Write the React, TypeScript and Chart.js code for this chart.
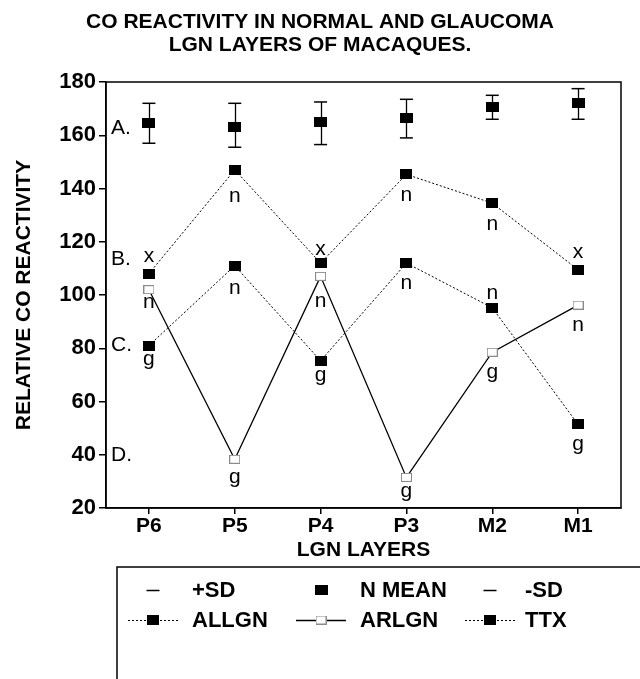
import React, { useEffect, useRef } from 'react';
import { Chart, registerables } from 'chart.js';

Chart.register(...registerables);

// ---------- data ----------
const layers = ['P6', 'P5', 'P4', 'P3', 'M2', 'M1'];
const plusSD = [172, 172, 172.5, 173.5, 175, 177.5];
const nMean = [164.5, 163, 165, 166.5, 170.5, 172];
const minusSD = [157, 155.5, 156.5, 159, 166, 166];
const allgn = [108, 147, 112, 145.3, 134.5, 109.5];
const arlgn = [102, 38.3, 107, 31.5, 78.5, 96.2];
const ttx = [81, 111, 75.3, 112, 95.2, 51.4];
const allgnMarks = ['x', 'n', 'x', 'n', 'n', 'x'];
const arlgnMarks = ['n', 'g', 'n', 'g', 'g', 'n'];
const ttxMarks = ['g', 'n', 'g', 'n', 'n', 'g'];
const groupLabels = ['A.', 'B.', 'C.', 'D.'];
const groupLevels = [162.5, 113.5, 81, 40];
const titleLines = ['CO REACTIVITY IN NORMAL AND GLAUCOMA', 'LGN LAYERS OF MACAQUES.'];
const yTitle = 'RELATIVE CO REACTIVITY';
const xTitle = 'LGN LAYERS';
const yMin = 20;
const yMax = 180;
const yStep = 20;

// ---------- styles ----------
const FONT = "'Liberation Sans', Arial, Helvetica, sans-serif";

function makeSquare(w: number, h: number, fill: string | null, stroke: string | null) {
  const c = document.createElement('canvas');
  c.width = w;
  c.height = h;
  const g = c.getContext('2d')!;
  if (fill) {
    g.fillStyle = fill;
    g.fillRect(0, 0, w, h);
  }
  if (stroke) {
    g.strokeStyle = stroke;
    g.lineWidth = 1;
    g.strokeRect(0.5, 0.5, w - 1, h - 1);
  }
  return c;
}

// letter offsets (px) relative to each marker
const markOffsets: Record<string, number[]> = {
  ALLGN: [-17, 26, -14, 21, 21, -18],
  TTX: [14, 22, 14, 20, -15, 20],
  ARLGN: [13, 18, 25, 14, 20, 20],
};

export default function App() {
  const ref = useRef<HTMLCanvasElement>(null);

  useEffect(() => {
    const canvas = ref.current!;
    const meanSq = makeSquare(13, 10, '#000', null);
    const fillSq = makeSquare(12, 10, '#000', null);
    const openSq = makeSquare(11, 9, '#fff', '#8a8a8a');

    const marks: Record<string, string[]> = { ALLGN: allgnMarks, TTX: ttxMarks, ARLGN: arlgnMarks };

    const decor = {
      id: 'decor',
      beforeDatasetsDraw(chart: any) {
        const { ctx, chartArea, scales } = chart;
        const x = scales.x;
        const y = scales.y;
        ctx.save();
        ctx.strokeStyle = '#000';
        ctx.lineWidth = 1.5;
        ctx.strokeRect(chartArea.left, chartArea.top, chartArea.right - chartArea.left, chartArea.bottom - chartArea.top);
        ctx.lineWidth = 1.3;
        for (let i = 0; i < layers.length; i++) {
          const px = Math.round(x.getPixelForValue(i)) + 0.5;
          ctx.beginPath();
          ctx.moveTo(px, y.getPixelForValue(plusSD[i]));
          ctx.lineTo(px, y.getPixelForValue(minusSD[i]));
          ctx.stroke();
        }
        ctx.restore();
      },
      afterDatasetsDraw(chart: any) {
        const { ctx, chartArea, scales } = chart;
        const x = scales.x;
        const y = scales.y;
        ctx.save();
        ctx.fillStyle = '#000';
        ctx.font = `21px ${FONT}`;
        ctx.textAlign = 'center';
        ctx.textBaseline = 'middle';
        chart.data.datasets.forEach((ds: any) => {
          const m = marks[ds.label];
          if (!m) return;
          const off = markOffsets[ds.label];
          m.forEach((ch, i) => {
            ctx.fillText(ch, x.getPixelForValue(i), y.getPixelForValue(ds.data[i]) + off[i]);
          });
        });
        ctx.textAlign = 'left';
        groupLabels.forEach((t, i) => {
          ctx.fillText(t, chartArea.left + 5, y.getPixelForValue(groupLevels[i]));
        });
        ctx.restore();
      },
      afterDraw(chart: any) {
        const { ctx, width } = chart;
        ctx.save();
        ctx.fillStyle = '#000';
        ctx.font = `bold 21px ${FONT}`;
        ctx.textAlign = 'center';
        ctx.textBaseline = 'middle';
        ctx.fillText(titleLines[0], width / 2, 22);
        ctx.fillText(titleLines[1], width / 2, 45);

        ctx.strokeStyle = '#000';
        ctx.lineWidth = 1.5;
        ctx.strokeRect(117, 567, 700, 300);

        const ds = chart.data.datasets;
        const row1 = 590;
        const row2 = 620;
        const cols = [
          { sym: 153, text: 192 },
          { sym: 321, text: 360 },
          { sym: 490, text: 525 },
        ];
        ctx.font = `bold 22px ${FONT}`;
        ctx.textAlign = 'left';
        ctx.textBaseline = 'middle';
        const r1 = [ds[0], ds[1], ds[2]];
        r1.forEach((d: any, i: number) => {
          const c = cols[i];
          if (d.pointStyle === 'line') {
            ctx.lineWidth = 1.5;
            ctx.beginPath();
            ctx.moveTo(c.sym - 6.5, row1 + 0.5);
            ctx.lineTo(c.sym + 6.5, row1 + 0.5);
            ctx.stroke();
          } else {
            const img = d.pointStyle;
            ctx.drawImage(img, c.sym - img.width / 2, row1 - img.height / 2);
          }
          ctx.fillText(d.label, c.text, row1 + 1);
        });
        const r2 = [ds[3], ds[4], ds[5]];
        r2.forEach((d: any, i: number) => {
          const c = cols[i];
          ctx.save();
          ctx.lineWidth = d.borderWidth;
          ctx.setLineDash(d.borderDash || []);
          ctx.beginPath();
          ctx.moveTo(c.sym - 25, row2 + 0.5);
          ctx.lineTo(c.sym + 25, row2 + 0.5);
          ctx.stroke();
          ctx.restore();
          const img = d.pointStyle;
          ctx.drawImage(img, c.sym - img.width / 2, row2 - img.height / 2);
          ctx.fillText(d.label, c.text, row2 + 1);
        });
        ctx.restore();
      },
    };

    const chart = new Chart(canvas, {
      type: 'line',
      data: {
        labels: layers,
        datasets: [
          {
            label: '+SD',
            data: plusSD,
            showLine: false,
            pointStyle: 'line',
            pointRadius: 6.5,
            pointBorderWidth: 1.5,
            borderColor: '#000',
            backgroundColor: '#000',
          },
          {
            label: 'N MEAN',
            data: nMean,
            showLine: false,
            pointStyle: meanSq as any,
            pointRadius: 6,
            borderColor: '#000',
            backgroundColor: '#000',
          },
          {
            label: '-SD',
            data: minusSD,
            showLine: false,
            pointStyle: 'line',
            pointRadius: 6.5,
            pointBorderWidth: 1.5,
            borderColor: '#000',
            backgroundColor: '#000',
          },
          {
            label: 'ALLGN',
            data: allgn,
            borderColor: '#000',
            backgroundColor: '#000',
            borderWidth: 1,
            borderDash: [2, 2],
            pointStyle: fillSq as any,
            pointRadius: 6,
            tension: 0,
          },
          {
            label: 'ARLGN',
            data: arlgn,
            borderColor: '#000',
            backgroundColor: '#fff',
            borderWidth: 1.3,
            pointStyle: openSq as any,
            pointRadius: 6,
            tension: 0,
          },
          {
            label: 'TTX',
            data: ttx,
            borderColor: '#000',
            backgroundColor: '#000',
            borderWidth: 1,
            borderDash: [2, 2],
            pointStyle: fillSq as any,
            pointRadius: 6,
            tension: 0,
          },
        ],
      },
      options: {
        responsive: false,
        animation: false,
        devicePixelRatio: 1,
        layout: { padding: { top: 82, right: 19, bottom: 116, left: 0 } },
        plugins: {
          legend: { display: false },
          title: { display: false },
          tooltip: { enabled: false },
        },
        scales: {
          x: {
            type: 'category',
            offset: true,
            grid: {
              display: true,
              drawOnChartArea: false,
              drawTicks: true,
              tickLength: 6,
              color: '#000',
              lineWidth: 1.5,
            },
            border: { display: true, color: '#000', width: 1.5 },
            ticks: {
              color: '#000',
              font: { family: FONT, size: 21, weight: 'bold' },
              padding: 0,
              maxRotation: 0,
              autoSkip: false,
            },
            title: {
              display: true,
              text: xTitle,
              color: '#000',
              font: { family: FONT, size: 21, weight: 'bold' },
              padding: { top: 0, bottom: 0 },
            },
            afterFit: (s: any) => {
              s.height = 55;
            },
          },
          y: {
            min: yMin,
            max: yMax,
            grid: {
              display: true,
              drawOnChartArea: false,
              drawTicks: true,
              tickLength: 7,
              color: '#000',
              lineWidth: 1.5,
            },
            border: { display: true, color: '#000', width: 1.5 },
            ticks: {
              stepSize: yStep,
              color: '#000',
              font: { family: FONT, size: 22, weight: 'bold' },
              padding: 3,
            },
            title: {
              display: true,
              text: yTitle,
              color: '#000',
              font: { family: FONT, size: 21, weight: 'bold' },
              padding: { top: 12, bottom: 0 },
            },
            afterFit: (s: any) => {
              s.width = 106;
            },
          },
        },
      } as any,
      plugins: [decor],
    });

    return () => chart.destroy();
  }, []);

  return (
    <div style={{ position: 'fixed', left: 0, top: 0, width: 640, height: 679, background: '#fff' }}>
      <canvas ref={ref} width={640} height={679} style={{ display: 'block' }} />
    </div>
  );
}
